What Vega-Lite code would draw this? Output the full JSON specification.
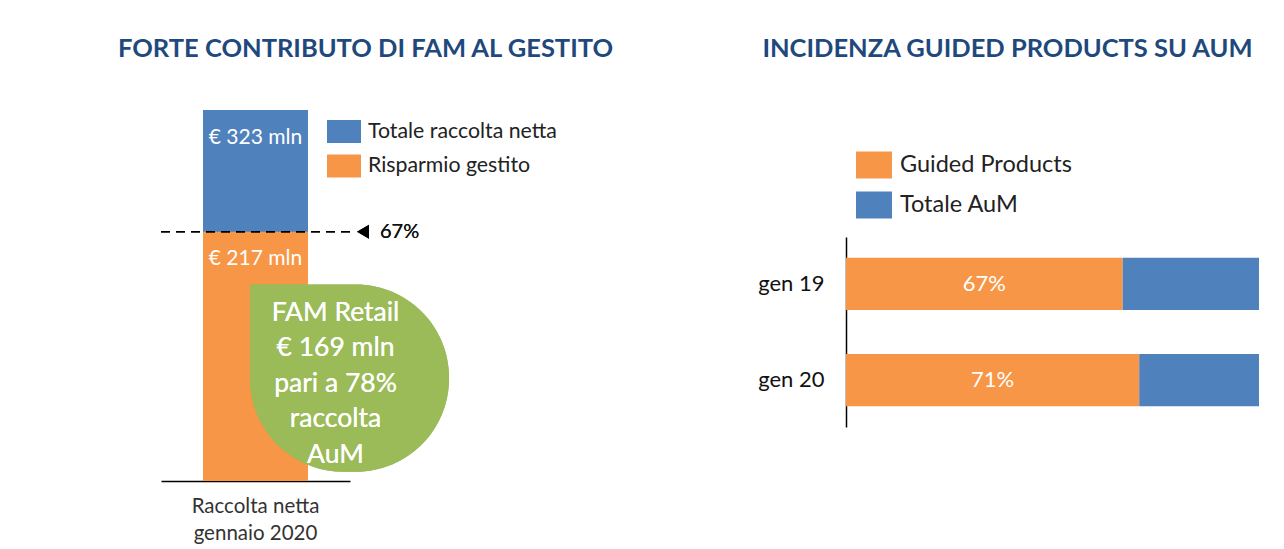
{
  "$schema": "https://vega.github.io/schema/vega-lite/v6.json",
  "background": "white",
  "padding": {"left": 117, "top": 36, "right": 0, "bottom": 0},
  "spacing": 143,
  "config": {
    "view": {"stroke": null},
    "font": "Lato",
    "title": {"font": "Lato", "fontSize": 25.5, "fontWeight": "bold", "color": "#1F497D", "anchor": "middle", "baseline": "alphabetic", "frame": "group"}
  },
  "resolve": {"scale": {"color": "independent"}, "legend": {"color": "independent"}},
  "hconcat": [
    {
      "width": 189,
      "height": 371,
      "title": {"text": "FORTE CONTRIBUTO DI FAM AL GESTITO", "dx": 110, "offset": 48},
      "data": {"values": [
        {"periodo": "Raccolta netta gennaio 2020", "serie_sx": "Totale raccolta netta", "valore": 323, "etichetta": "€ 323 mln"},
        {"periodo": "Raccolta netta gennaio 2020", "serie_sx": "Risparmio gestito", "valore": 217, "etichetta": "€ 217 mln"}
      ]},
      "layer": [
        {
          "mark": {"type": "bar", "width": 105},
          "encoding": {
            "x": {"field": "periodo", "type": "nominal", "axis": {"title": null, "labelAngle": 0, "ticks": false, "domainColor": "#000000", "domainWidth": 1.5, "labelFont": "Lato", "labelFontSize": 20.5, "labelColor": "#333333", "labelPadding": 15, "labelLineHeight": 27, "labelBaseline": "top", "labelExpr": "[slice(datum.label, 0, 14), slice(datum.label, 15)]"}},
            "y": {"field": "valore", "type": "quantitative", "stack": null, "scale": {"domain": [0, 323], "nice": false}, "axis": null},
            "color": {"field": "serie_sx", "type": "nominal",
              "scale": {"domain": ["Totale raccolta netta", "Risparmio gestito"], "range": ["#4F81BD", "#F79646"]},
              "legend": {"orient": "none", "legendX": 166, "legendY": 4.5, "title": null, "padding": 0, "symbolType": "M-1,-0.68H1V0.68H-1Z", "symbolSize": 1156, "symbolStrokeWidth": 0, "symbolOpacity": 1, "labelFont": "Lato", "labelFontSize": 21.3, "labelColor": "#222222", "labelOffset": 7, "labelLimit": 400, "rowPadding": 5.5}}
          }
        },
        {
          "mark": {"type": "text", "baseline": "middle", "dy": 27.5, "fontSize": 21, "color": "white"},
          "encoding": {
            "x": {"field": "periodo", "type": "nominal"},
            "y": {"field": "valore", "type": "quantitative"},
            "text": {"field": "etichetta"}
          }
        },
        {
          "mark": {"type": "rule", "strokeDash": [9, 6], "color": "#000000", "strokeWidth": 1.5},
          "encoding": {"y": {"datum": 217}}
        },
        {
          "mark": {"type": "point", "shape": "triangle-left", "size": 190, "filled": true, "color": "#000000", "opacity": 1, "xOffset": 107.5},
          "encoding": {"x": {"field": "periodo", "type": "nominal"}, "y": {"datum": 217}}
        },
        {
          "mark": {"type": "text", "align": "left", "baseline": "middle", "dx": 124.5, "fontSize": 20, "fontWeight": "normal", "color": "#111111", "text": "67%"},
          "encoding": {"x": {"field": "periodo", "type": "nominal"}, "y": {"datum": 217}}
        },
        {
          "mark": {"type": "bar", "width": 199, "xOffset": 94, "color": "#9BBB59", "cornerRadiusTopLeft": 0, "cornerRadiusTopRight": 93, "cornerRadiusBottomRight": 93, "cornerRadiusBottomLeft": 93},
          "encoding": {"x": {"field": "periodo", "type": "nominal"}, "y": {"datum": 171}, "y2": {"datum": 8}}
        },
        {
          "mark": {"type": "text", "align": "center", "baseline": "middle", "dx": 80, "fontSize": 26.5, "lineHeight": 35.5, "lineBreak": "\n", "color": "white", "text": "FAM Retail\n€ 169 mln\npari a 78%\nraccolta\nAuM"},
          "encoding": {"x": {"field": "periodo", "type": "nominal"}, "y": {"datum": 146.3}}
        }
      ]
    },
    {
      "width": 413,
      "height": 371,
      "title": {"text": "INCIDENZA GUIDED PRODUCTS SU AUM", "dx": -45, "offset": 48},
      "data": {"values": [
        {"mese": "gen 19", "serie_dx": "Guided Products", "quota": 0.67, "etichetta": "67%"},
        {"mese": "gen 19", "serie_dx": "Totale AuM", "quota": 0.33, "etichetta": "33%"},
        {"mese": "gen 20", "serie_dx": "Guided Products", "quota": 0.71, "etichetta": "71%"},
        {"mese": "gen 20", "serie_dx": "Totale AuM", "quota": 0.29, "etichetta": "29%"}
      ]},
      "encoding": {
        "y": {"field": "mese", "type": "nominal", "sort": ["gen 19", "gen 20"],
          "scale": {"range": [127, 317], "paddingInner": 0.455, "paddingOuter": 0.2145},
          "axis": {"title": null, "ticks": false, "domainColor": "#000000", "domainWidth": 1.5, "labelFont": "Lato", "labelFontSize": 22, "labelColor": "#111111", "labelPadding": 22}}
      },
      "layer": [
        {
          "mark": {"type": "bar"},
          "encoding": {
            "x": {"field": "quota", "type": "quantitative", "stack": "zero", "scale": {"domain": [0, 1], "nice": false}, "axis": null},
            "color": {"field": "serie_dx", "type": "nominal",
              "scale": {"domain": ["Guided Products", "Totale AuM"], "range": ["#F79646", "#4F81BD"]},
              "legend": {"orient": "none", "legendX": 10, "legendY": 37, "title": null, "padding": 0, "symbolType": "M-1,-0.75H1V0.75H-1Z", "symbolSize": 1296, "symbolStrokeWidth": 0, "symbolOpacity": 1, "labelFont": "Lato", "labelFontSize": 23.5, "labelColor": "#222222", "labelOffset": 8, "labelLimit": 400, "rowPadding": 8}}
          }
        },
        {
          "transform": [{"filter": "datum.serie_dx == 'Guided Products'"}],
          "mark": {"type": "text", "align": "center", "baseline": "middle", "fontSize": 22, "color": "white"},
          "encoding": {
            "x": {"field": "quota", "type": "quantitative", "stack": "zero", "bandPosition": 0.5},
            "text": {"field": "etichetta"}
          }
        }
      ]
    }
  ]
}
